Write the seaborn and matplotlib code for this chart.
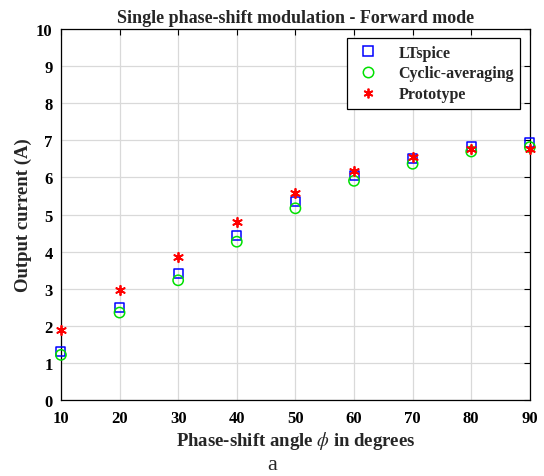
import matplotlib
matplotlib.use("Agg")
import matplotlib.pyplot as plt
import seaborn as sns
import pandas as pd
from matplotlib.lines import Line2D

angles = [10, 20, 30, 40, 50, 60, 70, 80, 90]
ltspice = [1.32, 2.50, 3.42, 4.45, 5.34, 6.05, 6.50, 6.83, 6.93]
cyclic = [1.22, 2.36, 3.23, 4.27, 5.17, 5.91, 6.37, 6.70, 6.82]
prototype = [1.90, 2.96, 3.85, 4.81, 5.58, 6.18, 6.56, 6.76, 6.77]
series_names = ["LTspice", "Cyclic-averaging", "Prototype"]

sns.set_style("white")
plt.rcParams["font.family"] = ["Liberation Serif", "DejaVu Serif"]
plt.rcParams["mathtext.fontset"] = "stix"

fig = plt.figure(figsize=(5.44, 4.77), dpi=100)
ax = fig.add_axes([0.112, 0.159, 0.862, 0.778])

df = pd.DataFrame({"angle": angles, "LTspice": ltspice,
                   "Cyclic-averaging": cyclic, "Prototype": prototype})

sns.scatterplot(data=df, x="angle", y="LTspice", ax=ax, marker="s", s=42,
                facecolors="none", edgecolor="#0000ff", linewidth=1.1, zorder=3, clip_on=False)
sns.scatterplot(data=df, x="angle", y="Cyclic-averaging", ax=ax, marker="o", s=55,
                facecolors="none", edgecolor="#00e000", linewidth=1.1, zorder=3, clip_on=False)
sns.scatterplot(data=df, x="angle", y="Prototype", ax=ax, marker=(6, 2, 0), s=45,
                color="#ff0000", edgecolor="#ff0000", linewidth=1.3, zorder=4, clip_on=False)

ax.set_xlim(10, 90)
ax.set_ylim(0, 10)
ax.set_xticks(angles)
ax.set_yticks(range(0, 11))
ax.grid(True, color="#d9d9d9", linewidth=0.9)
ax.set_axisbelow(True)
for sp in ax.spines.values():
    sp.set_color("black")
    sp.set_linewidth(0.9)
ax.tick_params(direction="in", top=True, right=True, length=4, width=0.8,
               labelsize=12, colors="black")
ax.tick_params(axis="x", pad=7)
ax.tick_params(axis="y", pad=6)
for lab in ax.get_xticklabels() + ax.get_yticklabels():
    lab.set_fontweight("bold")

ax.set_xlabel(r"Phase-shift angle $\phi$ in degrees", fontsize=13.5, fontweight="bold", labelpad=2)
ax.set_ylabel("Output current (A)", fontsize=13.5, fontweight="bold", labelpad=3)
ax.set_title("Single phase-shift modulation - Forward mode", fontsize=13, fontweight="bold", pad=5)

handles = [
    Line2D([], [], linestyle="none", marker="s", markersize=6.5, markerfacecolor="none",
           markeredgecolor="#0000ff", markeredgewidth=1.1),
    Line2D([], [], linestyle="none", marker="o", markersize=7.5, markerfacecolor="none",
           markeredgecolor="#00e000", markeredgewidth=1.1),
    Line2D([], [], linestyle="none", marker=(6, 2, 0), markersize=7, color="#ff0000",
           markeredgewidth=1.3),
]
leg = ax.legend(handles, series_names, loc="upper right", bbox_to_anchor=(0.997, 0.997),
                frameon=True, fancybox=False, edgecolor="black", framealpha=1,
                prop={"weight": "bold", "size": 11.5}, handletextpad=1.0,
                borderpad=0.4, labelspacing=0.3, handlelength=1.8)
leg.get_frame().set_linewidth(0.9)

fig.text(0.5, 0.025, "a", ha="center", va="center", fontsize=16)

fig.savefig("out.png", dpi=100)
